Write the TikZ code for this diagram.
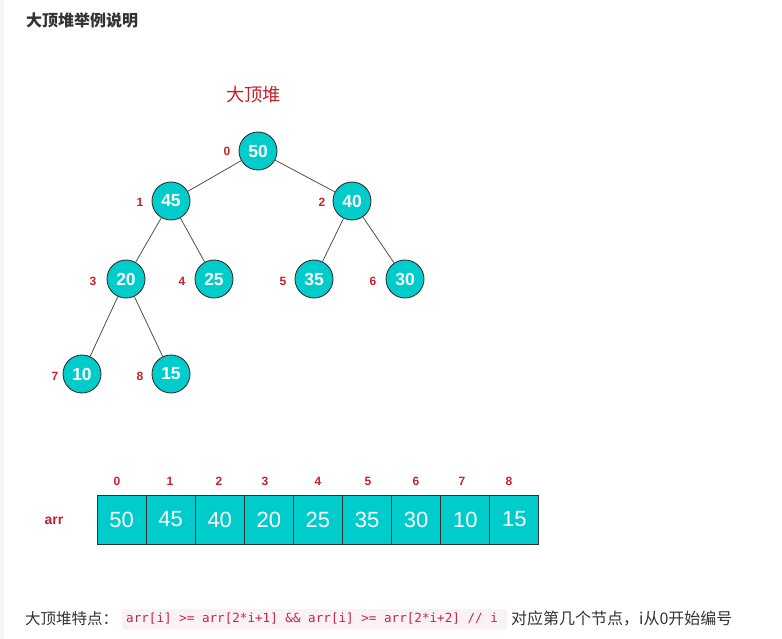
\documentclass[tikz,border=0pt]{standalone}
\usepackage{fontspec}
\setmainfont{Liberation Sans}
\newfontfamily\cjk{Noto Sans CJK SC}
\newfontfamily\codefont{DejaVu Sans Mono}
\definecolor{heapcyan}{RGB}{0,204,204}
\definecolor{heapred}{RGB}{200,32,45}
\definecolor{edgegray}{RGB}{80,80,80}
\definecolor{txtgray}{RGB}{51,51,51}
\definecolor{codered}{RGB}{199,37,78}
\definecolor{codebg}{RGB}{249,242,244}
\begin{document}
\begin{tikzpicture}[x=1pt,y=-1pt,
  hnode/.style={circle,draw=txtgray,line width=0.9pt,fill=heapcyan,minimum size=38pt,inner sep=0pt,
    text=white,font=\fontsize{17.5}{17.5}\selectfont\bfseries},
  idx/.style={text=heapred,font=\fontsize{12}{12}\selectfont\bfseries,inner sep=0pt},
  cell/.style={rectangle,draw=txtgray,line width=0.9pt,fill=heapcyan,minimum width=49.1pt,minimum height=49pt,
    inner sep=0pt,text=white,font=\fontsize{22}{22}\selectfont},
  edge/.style={draw=edgegray,line width=0.8pt}]
\useasboundingbox (0,0) rectangle (782,639);
\fill[white] (0,0) rectangle (782,639);
\fill[gray!8] (0,0) rectangle (4,639);

\node[anchor=west,text=txtgray,inner sep=0pt,font=\cjk\fontsize{16}{16}\selectfont\bfseries] (hdr) at (26,20) {大顶堆举例说明};
\node[text=heapred,inner sep=0pt,font=\cjk\fontsize{18.3}{18.3}\selectfont] (title) at (253.5,95) {大顶堆};

% tree nodes
\node[hnode] (n0) at (258,151) {50};
\node[hnode] (n1) at (171,201) {45};
\node[hnode] (n2) at (352,201) {40};
\node[hnode] (n3) at (126,279) {20};
\node[hnode] (n4) at (214,279) {25};
\node[hnode] (n5) at (314,279) {35};
\node[hnode] (n6) at (405,279) {30};
\node[hnode] (n7) at (82,374) {10};
\node[hnode] (n8) at (171,374) {15};

\draw[edge] (n0) -- (n1);
\draw[edge] (n0) -- (n2);
\draw[edge] (n1) -- (n3);
\draw[edge] (n1) -- (n4);
\draw[edge] (n2) -- (n5);
\draw[edge] (n2) -- (n6);
\draw[edge] (n3) -- (n7);
\draw[edge] (n3) -- (n8);

\node[idx] (i0) at (227,151) {0};
\node[idx] (i1) at (140,202) {1};
\node[idx] (i2) at (322,202) {2};
\node[idx] (i3) at (93,281) {3};
\node[idx] (i4) at (182,281) {4};
\node[idx] (i5) at (283,281) {5};
\node[idx] (i6) at (373,281) {6};
\node[idx] (i7) at (55,376) {7};
\node[idx] (i8) at (140,376) {8};

% array
\node[idx,font=\fontsize{14}{14}\selectfont\bfseries] (arrlbl) at (54,521) {arr};
\foreach \v [count=\k from 0] in {50,45,40,20,25,35,30,10,15}{
  \node[cell] (c\k) at ({97+49.1*\k+24.55},519.5) {\v};
}
\foreach \k/\xx in {0/117,1/170,2/219,3/265,4/318,5/368,6/416,7/462,8/509}{
  \node[idx] (a\k) at (\xx,481) {\k};
}

% bottom line
\node[anchor=west,text=txtgray,inner sep=0pt,font=\cjk\fontsize{15.5}{15.5}\selectfont] (feat) at (25,619) {大顶堆特点：};
\fill[codebg,rounded corners=2pt] (122,609) rectangle (507,629.5);
\node[anchor=west,text=codered,inner sep=0pt,font=\codefont\fontsize{12.6}{12.6}\selectfont] (code) at (126,619) {arr[i] >= arr[2*i+1] \&\& arr[i] >= arr[2*i+2] // i};
\node[anchor=west,text=txtgray,inner sep=0pt,font=\cjk\fontsize{16}{16}\selectfont] (note) at (511,619) {对应第几个节点，i从0开始编号};
\end{tikzpicture}
\end{document}
